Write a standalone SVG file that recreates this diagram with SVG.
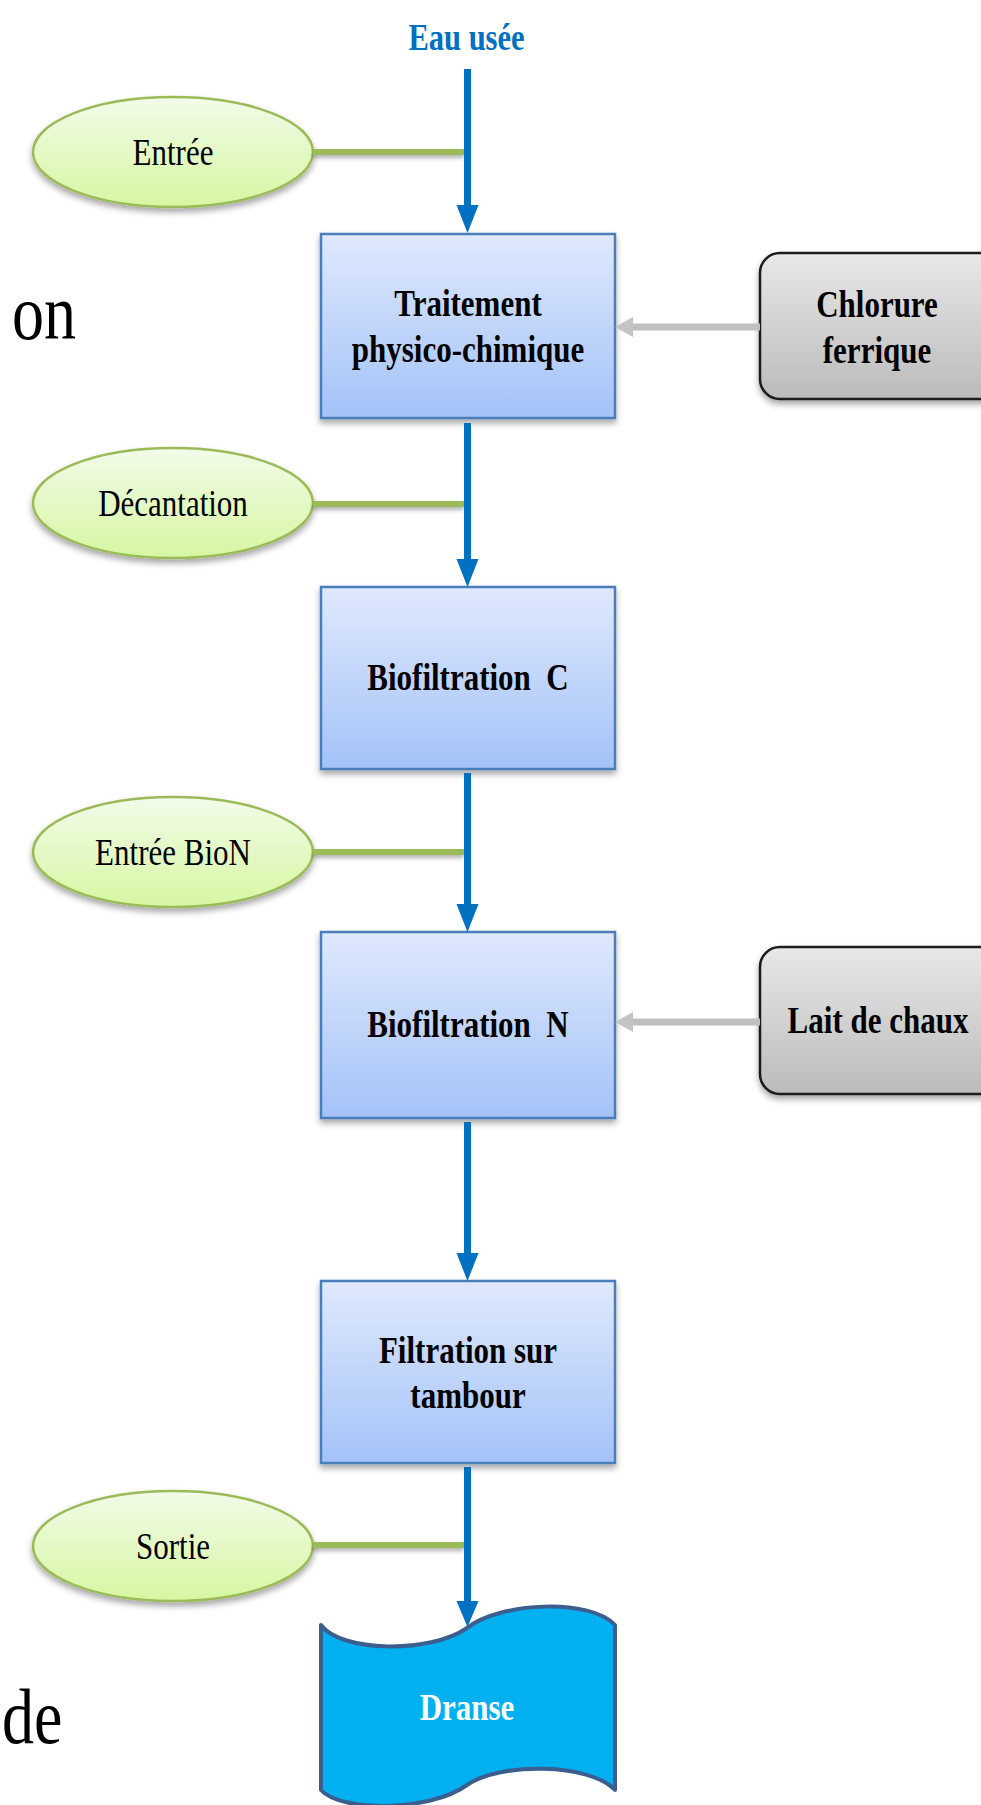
<svg xmlns="http://www.w3.org/2000/svg" width="981" height="1805" viewBox="0 0 981 1805">
<style>
text{font-family:"Liberation Serif","Times New Roman",serif;}
.bt{font-size:31px;font-weight:bold;fill:#000;text-anchor:middle;white-space:pre;}
.et{font-size:31px;fill:#000;text-anchor:middle;}
.big{font-size:64px;fill:#000;}
.box{fill:url(#gBlue);stroke:#4A7EBB;stroke-width:2.5;filter:url(#sh);}
.gbox{fill:url(#gGrey);stroke:#1A1A1A;stroke-width:2.5;filter:url(#sh);}
.ell{fill:url(#gGreen);stroke:#9BBB59;stroke-width:2.5;filter:url(#sh);}
.flow{stroke:#0070C0;stroke-width:7;fill:none;}
.head{fill:#0070C0;}
.tap{fill:#9BBB59;filter:url(#sh2);}
.feed{stroke:#BFBFBF;stroke-width:7;fill:none;}
.fhead{fill:#C4C4C4;}
</style>
<defs>
<linearGradient id="gBlue" x1="0" y1="0" x2="0" y2="1">
<stop offset="0" stop-color="#DFE9FD"/>
<stop offset="1" stop-color="#A4C2F8"/>
</linearGradient>
<linearGradient id="gGrey" x1="0" y1="0" x2="0" y2="1">
<stop offset="0" stop-color="#E8E8E8"/>
<stop offset="1" stop-color="#BBBBBB"/>
</linearGradient>
<linearGradient id="gGreen" x1="0" y1="0" x2="0" y2="1">
<stop offset="0" stop-color="#F2FBE9"/>
<stop offset="1" stop-color="#D6F7A2"/>
</linearGradient>
<filter id="sh" x="-10%" y="-10%" width="120%" height="130%">
<feDropShadow dx="0" dy="4" stdDeviation="3" flood-color="#000" flood-opacity="0.35"/>
</filter>
<filter id="sh2" x="-10%" y="-150%" width="120%" height="500%">
<feDropShadow dx="0" dy="3" stdDeviation="2" flood-color="#000" flood-opacity="0.3"/>
</filter>
</defs>
<rect width="981" height="1805" fill="#FFFFFF"/>

<g id="bg-text">
<text class="big" transform="translate(12,339) scale(1,1.23)">on</text>
<text class="big" transform="translate(2,1743) scale(1,1.23)">de</text>
</g>

<g id="eau-usee">
<text transform="translate(466.5,50) scale(1,1.25)" style="font-size:30.5px;font-weight:bold;fill:#0070C0;text-anchor:middle;">Eau usée</text>
</g>

<g id="entree">
<ellipse class="ell" cx="173" cy="152" rx="140" ry="55"/>
<text class="et" transform="translate(173,165) scale(1,1.23)">Entrée</text>
</g>

<g id="traitement">
<rect class="box" x="321" y="234" width="294" height="184"/>
<text class="bt" transform="translate(468,316) scale(1,1.22)">Traitement</text>
<text class="bt" transform="translate(468,362) scale(1,1.22)">physico-chimique</text>
</g>

<g id="chlorure">
<rect class="gbox" x="760" y="253" width="245" height="146" rx="20" ry="20"/>
<text class="bt" transform="translate(877,317) scale(1,1.22)">Chlorure</text>
<text class="bt" transform="translate(877,363) scale(1,1.22)">ferrique</text>
</g>

<g id="decantation">
<ellipse class="ell" cx="173" cy="503" rx="140" ry="55"/>
<text class="et" transform="translate(173,516) scale(1,1.23)">Décantation</text>
</g>

<g id="biofiltration-c">
<rect class="box" x="321" y="587" width="294" height="182"/>
<text class="bt" transform="translate(468,690) scale(1,1.22)">Biofiltration  C</text>
</g>

<g id="entree-bion">
<ellipse class="ell" cx="173" cy="852" rx="140" ry="55"/>
<text class="et" transform="translate(173,865) scale(1,1.23)">Entrée BioN</text>
</g>

<g id="biofiltration-n">
<rect class="box" x="321" y="932" width="294" height="186"/>
<text class="bt" transform="translate(468,1037) scale(1,1.22)">Biofiltration  N</text>
</g>

<g id="lait-de-chaux">
<rect class="gbox" x="760" y="947" width="245" height="147" rx="20" ry="20"/>
<text class="bt" transform="translate(878,1033) scale(1,1.22)">Lait de chaux</text>
</g>

<g id="filtration-tambour">
<rect class="box" x="321" y="1281" width="294" height="182"/>
<text class="bt" transform="translate(468,1363) scale(1,1.22)">Filtration sur</text>
<text class="bt" transform="translate(468,1408) scale(1,1.22)">tambour</text>
</g>

<g id="sortie">
<ellipse class="ell" cx="173" cy="1546" rx="140" ry="55"/>
<text class="et" transform="translate(173,1559) scale(1,1.23)">Sortie</text>
</g>

<g id="dranse">
<path d="M321,1625 C340,1652 430,1654 467,1628 C500,1602 590,1598 615,1625 L615,1790 C590,1763 500,1762 467,1785 C430,1812 340,1812 321,1790 Z" fill="#00B0F0" stroke="#3B5E8F" stroke-width="4" stroke-linejoin="round"/>
<text transform="translate(467,1720) scale(1,1.22)" style="font-size:31px;font-weight:bold;fill:#FFFFFF;text-anchor:middle;">Dranse</text>
</g>

<g id="connectors">
<rect class="tap" x="313" y="149" width="151" height="6"/>
<rect class="tap" x="313" y="501" width="151" height="6"/>
<rect class="tap" x="313" y="849" width="151" height="6"/>
<rect class="tap" x="313" y="1542" width="151" height="6"/>

<line class="flow" x1="467.5" y1="69" x2="467.5" y2="208"/>
<polygon class="head" points="456.5,205 478.5,205 467.5,233"/>
<line class="flow" x1="467.5" y1="423" x2="467.5" y2="562"/>
<polygon class="head" points="456.5,559 478.5,559 467.5,587"/>
<line class="flow" x1="467.5" y1="773" x2="467.5" y2="907"/>
<polygon class="head" points="456.5,904 478.5,904 467.5,932"/>
<line class="flow" x1="467.5" y1="1122" x2="467.5" y2="1256"/>
<polygon class="head" points="456.5,1253 478.5,1253 467.5,1281"/>
<line class="flow" x1="467.5" y1="1467" x2="467.5" y2="1604"/>
<polygon class="head" points="456.5,1601 478.5,1601 467.5,1627"/>

<line class="feed" x1="760" y1="327" x2="628" y2="327"/>
<polygon class="fhead" points="615,327 633,317 633,337"/>
<line class="feed" x1="760" y1="1022" x2="628" y2="1022"/>
<polygon class="fhead" points="615,1022 633,1012 633,1032"/>
</g>
</svg>
